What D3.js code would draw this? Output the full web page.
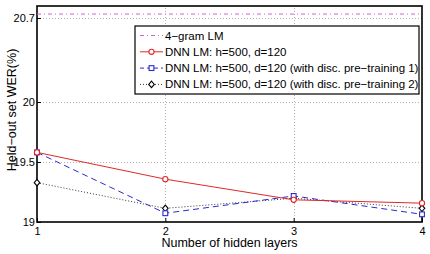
<!DOCTYPE html>
<html>
<head>
<meta charset="utf-8">
<script src="https://cdn.jsdelivr.net/npm/d3@7"></script>
<style>
body { margin: 0; background: #fff; }
svg { font-family: "Liberation Sans", Arial, sans-serif; }
</style>
</head>
<body>
<div id="chart"></div>
<script>
var width = 430;
var height = 254;

// data
var layers = [1, 2, 3, 4];
var ngram = 20.733;
var dnn = [19.58, 19.357, 19.185, 19.157];
var dnnPre1 = [19.58, 19.073, 19.217, 19.064];
var dnnPre2 = [19.328, 19.114, 19.198, 19.114];
var yTicks = [19, 19.5, 20, 20.7];
var legendLabels = [
  "4\u2212gram LM",
  "DNN LM: h=500, d=120",
  "DNN LM: h=500, d=120 (with disc. pre\u2212training 1)",
  "DNN LM: h=500, d=120 (with disc. pre\u2212training 2)"
];

var m = { left: 37, right: 8, top: 6, bottom: 32 };

var svg = d3.select("#chart")
    .append("svg")
    .attr("width", width)
    .attr("height", height);

var x = d3.scaleLinear()
    .domain([1, 4])
    .range([m.left, width - m.right]);

var y = d3.scaleLinear()
    .domain([19, 20.8])
    .range([height - m.bottom, m.top]);

// grid
var grid = svg.append("g")
    .attr("stroke", "#b0b0b0")
    .attr("stroke-width", 1)
    .attr("stroke-dasharray", "1,2");

grid.selectAll("line.gx")
    .data(layers.slice(1, 3))
    .enter()
    .append("line")
    .attr("x1", d => Math.round(x(d)) + 0.5)
    .attr("x2", d => Math.round(x(d)) + 0.5)
    .attr("y1", y.range()[0])
    .attr("y2", y.range()[1]);

grid.selectAll("line.gy")
    .data(yTicks.slice(1))
    .enter()
    .append("line")
    .attr("x1", x.range()[0])
    .attr("x2", x.range()[1])
    .attr("y1", d => Math.round(y(d)) + 0.5)
    .attr("y2", d => Math.round(y(d)) + 0.5);

// axes
var xAxis = d3.axisBottom(x).tickValues(layers).tickSize(-4).tickPadding(5).tickFormat(d3.format("d"));
var yAxis = d3.axisLeft(y).tickValues(yTicks).tickSize(-4).tickPadding(2).tickFormat(d => d);

var gx = svg.append("g")
    .attr("transform", "translate(0," + y.range()[0] + ")")
    .call(xAxis);
var gy = svg.append("g")
    .attr("transform", "translate(" + x.range()[0] + ",0)")
    .call(yAxis);

[gx, gy].forEach(function(g) {
  g.select(".domain").remove();
  g.selectAll("text").attr("font-size", 11).attr("fill", "#000")
    .attr("font-family", "Liberation Sans, Arial, sans-serif");
  g.selectAll(".tick line").attr("stroke", "#000");
});

// frame
svg.append("rect")
    .attr("x", x.range()[0])
    .attr("y", y.range()[1])
    .attr("width", x.range()[1] - x.range()[0])
    .attr("height", y.range()[0] - y.range()[1])
    .attr("fill", "none")
    .attr("stroke", "#000")
    .attr("stroke-width", 1.6);

// series
var series = [
  { vals: dnnPre2, color: "#000", dash: "1,2", width: 0.8, marker: "diamond" },
  { vals: dnnPre1, color: "#2a2ad0", dash: "6,4", width: 1, marker: "square" },
  { vals: dnn, color: "#e02828", dash: null, width: 1, marker: "circle" }
];

var line = d3.line()
    .x((d, i) => x(layers[i]))
    .y(d => y(d));

function drawMarker(g, type, color) {
  if (type === "circle") {
    g.append("circle").attr("r", 2.6);
  } else if (type === "square") {
    g.append("rect").attr("x", -2.4).attr("y", -2.4).attr("width", 4.8).attr("height", 4.8);
  } else {
    g.append("path").attr("d", "M0,-3.2L2.8,0L0,3.2L-2.8,0Z");
  }
  g.selectAll("*").attr("fill", "#fff").attr("stroke", color).attr("stroke-width", 1.1);
}

var ngramColor = "#d264d2";
var ngramDash = "4,3,1,3";

// 4-gram line
svg.append("line")
    .attr("x1", x.range()[0])
    .attr("x2", x.range()[1])
    .attr("y1", y(ngram))
    .attr("y2", y(ngram))
    .attr("stroke", ngramColor)
    .attr("stroke-width", 1)
    .attr("stroke-dasharray", ngramDash);

series.forEach(function(s) {
  svg.append("path")
      .datum(s.vals)
      .attr("fill", "none")
      .attr("stroke", s.color)
      .attr("stroke-width", s.width)
      .attr("stroke-dasharray", s.dash)
      .attr("d", line);
  s.vals.forEach(function(v, i) {
    var g = svg.append("g").attr("transform", "translate(" + x(layers[i]) + "," + y(v) + ")");
    drawMarker(g, s.marker, s.color);
  });
});

// legend
var lg = svg.append("g").attr("transform", "translate(135,26)");
lg.append("rect")
    .attr("width", 284)
    .attr("height", 68)
    .attr("fill", "#fff")
    .attr("stroke", "#000")
    .attr("stroke-width", 1.2);

var legendItems = [
  { color: ngramColor, dash: ngramDash, width: 1, marker: null },
  { color: "#e02828", dash: null, width: 1, marker: "circle" },
  { color: "#2a2ad0", dash: "4,3", width: 1, marker: "square" },
  { color: "#000", dash: "1,2", width: 0.8, marker: "diamond" }
];

legendItems.forEach(function(it, i) {
  var yy = 9.5 + i * 16.3;
  lg.append("line")
      .attr("x1", 5).attr("x2", 28)
      .attr("y1", yy).attr("y2", yy)
      .attr("stroke", it.color)
      .attr("stroke-width", it.width)
      .attr("stroke-dasharray", it.dash);
  if (it.marker) {
    var g = lg.append("g").attr("transform", "translate(16.5," + yy + ")");
    drawMarker(g, it.marker, it.color);
  }
  lg.append("text")
      .attr("x", 30)
      .attr("y", yy + 4)
      .attr("font-size", 11.5)
      .text(legendLabels[i]);
});

// axis titles
svg.append("text")
    .attr("x", (x.range()[0] + x.range()[1]) / 2)
    .attr("y", 247)
    .attr("text-anchor", "middle")
    .attr("font-size", 12.5)
    .text("Number of hidden layers");

svg.append("text")
    .attr("transform", "translate(16,110) rotate(-90)")
    .attr("text-anchor", "middle")
    .attr("font-size", 12.5)
    .text("Held\u2212out set WER(%)");
</script>
</body>
</html>
